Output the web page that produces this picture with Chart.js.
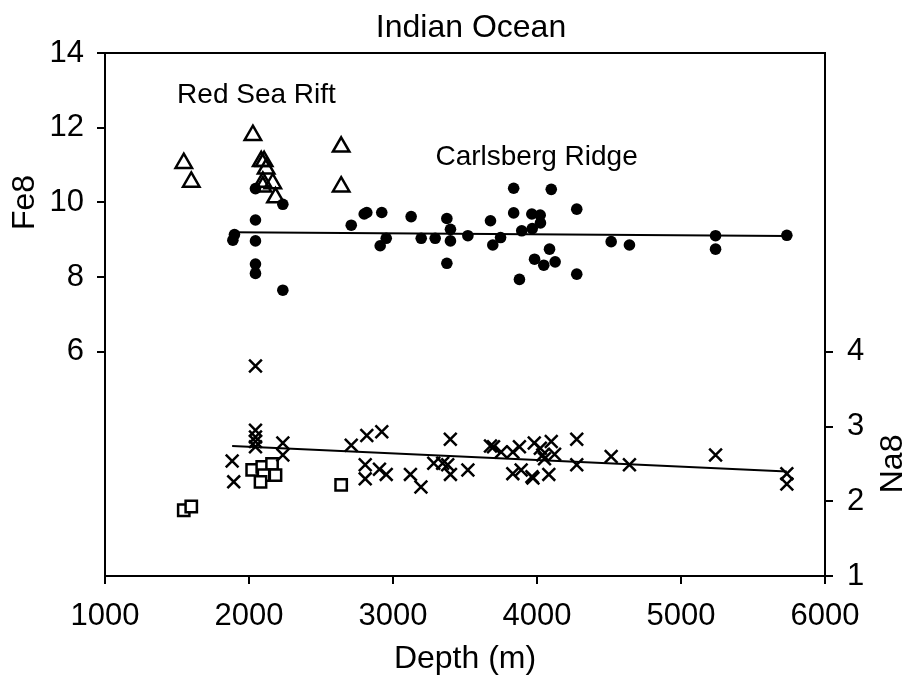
<!DOCTYPE html>
<html>
<head>
<meta charset="utf-8">
<script src="https://cdn.jsdelivr.net/npm/chart.js@4"></script>
<style>
  html, body { margin: 0; padding: 0; background: #fff; }
  canvas { display: block; }
</style>
</head>
<body>
<canvas id="chart" width="907" height="676"></canvas>
<script>
// Carlsberg Ridge, Fe8 (filled circles)
const cbDepthFe = [1899, 1888, 2045, 2045, 2045, 2045, 2045, 2235, 2235, 2710, 2800, 2818, 2922, 2953, 2911,
    3126, 3196, 3293, 3374, 3399, 3399, 3374, 3520, 3677, 3747, 3693, 3838, 3838, 3894, 3964, 4022, 4024,
    3967, 4099, 4087, 3983, 4047, 4126, 3878, 4276, 4276, 4515, 4642, 5240, 5240, 5735];
const cbFe8 = [9.14, 8.99, 10.37, 9.53, 8.97, 8.35, 8.10, 9.95, 7.65, 9.39, 9.69, 9.73, 9.73, 9.04, 8.84,
    9.62, 9.04, 9.04, 9.57, 9.28, 8.97, 8.37, 9.11, 9.51, 9.06, 8.86, 10.38, 9.72, 9.24, 9.69, 9.66, 9.45,
    9.30, 10.35, 8.75, 8.48, 8.32, 8.41, 7.94, 9.82, 8.08, 8.95, 8.86, 9.11, 8.75, 9.12];

// Carlsberg Ridge, Na8 (crosses)
const cbDepthNa = [2045, 2045, 2045, 2045, 2045, 2235, 2235, 1883, 1894, 2710, 2818, 2922, 2807, 2807, 2906,
    2953, 3121, 3194, 3283, 3345, 3398, 3380, 3399, 3520, 3677, 3698, 3751, 3832, 3878, 3832, 3890, 3965,
    3972, 3981, 4023, 4040, 4099, 4122, 4052, 4082, 4276, 4276, 4515, 4642, 5240, 5735, 5735];
const cbNa8 = [3.81, 2.95, 2.86, 2.80, 2.73, 2.78, 2.62, 2.54, 2.26, 2.75, 2.88, 2.93, 2.49, 2.30, 2.43,
    2.36, 2.36, 2.19, 2.51, 2.51, 2.83, 2.49, 2.36, 2.42, 2.74, 2.73, 2.66, 2.66, 2.73, 2.37, 2.42, 2.33,
    2.31, 2.78, 2.71, 2.62, 2.80, 2.63, 2.57, 2.36, 2.83, 2.49, 2.60, 2.49, 2.62, 2.37, 2.23];

// Red Sea Rift, Fe8 (open triangles)
const rsDepthFe = [1547, 1599, 2027, 2085, 2105, 2119, 2096, 2165, 2096, 2184, 2640, 2640];
const rsFe8 = [11.05, 10.55, 11.80, 11.10, 11.10, 10.90, 10.55, 10.51, 10.42, 10.13, 11.49, 10.42];

// Red Sea Rift, Na8 (open squares)
const rsDepthNa = [1547, 1599, 2022, 2092, 2160, 2101, 2184, 2080, 2640];
const rsNa8 = [1.88, 1.93, 2.42, 2.46, 2.50, 2.35, 2.35, 2.26, 2.22];

// trend lines through the Carlsberg data
const feTrendDepth = [1890, 5735];
const feTrend = [9.20, 9.10];
const naTrendDepth = [1883, 5735];
const naTrend = [2.74, 2.40];

const FONT = '"Liberation Sans", Arial, Helvetica, sans-serif';

function toPoints(xs, ys) {
    return xs.map((x, i) => ({ x: x, y: ys[i] }));
}

// titles and area labels
const textPlugin = {
    id: 'textPlugin',
    afterDraw(chart) {
        const { ctx, chartArea, scales } = chart;
        const cx = (chartArea.left + chartArea.right) / 2;
        ctx.save();

        // top edge of the frame
        ctx.strokeStyle = '#000';
        ctx.lineWidth = 2;
        ctx.beginPath();
        ctx.moveTo(chartArea.left, chartArea.top);
        ctx.lineTo(chartArea.right, chartArea.top);
        ctx.stroke();

        ctx.fillStyle = '#000';
        ctx.textAlign = 'center';
        ctx.textBaseline = 'middle';

        ctx.font = '32px ' + FONT;
        ctx.fillText('Indian Ocean', cx + 6, 28);
        ctx.fillText('Depth (m)', cx, 659);

        ctx.save();
        ctx.translate(25, scales.y.getPixelForValue(10));
        ctx.rotate(-Math.PI / 2);
        ctx.fillText('Fe8', 0, 0);
        ctx.restore();

        ctx.save();
        ctx.translate(893, scales.y2.getPixelForValue(2.5));
        ctx.rotate(-Math.PI / 2);
        ctx.fillText('Na8', 0, 0);
        ctx.restore();

        ctx.font = '28px ' + FONT;
        ctx.fillText('Red Sea Rift', scales.x.getPixelForValue(2052), scales.y.getPixelForValue(12.87));
        ctx.fillText('Carlsberg Ridge', scales.x.getPixelForValue(3997), scales.y.getPixelForValue(11.21));

        ctx.restore();
    }
};

const axisLook = {
    border: { display: true, color: '#000', width: 2 },
    grid: { drawOnChartArea: false, drawTicks: true, tickLength: 8, color: '#000', lineWidth: 2 }
};

const tickFont = { size: 31, family: FONT };

new Chart(document.getElementById('chart'), {
    type: 'scatter',
    data: {
        datasets: [
            {
                label: 'Fe8 trend',
                data: toPoints(feTrendDepth, feTrend),
                showLine: true,
                borderColor: '#000',
                borderWidth: 2,
                pointRadius: 0,
                yAxisID: 'y'
            },
            {
                label: 'Na8 trend',
                data: toPoints(naTrendDepth, naTrend),
                showLine: true,
                borderColor: '#000',
                borderWidth: 2,
                pointRadius: 0,
                yAxisID: 'y2'
            },
            {
                label: 'Carlsberg Ridge Fe8',
                data: toPoints(cbDepthFe, cbFe8),
                pointStyle: 'circle',
                pointRadius: 5.8,
                backgroundColor: '#000',
                borderColor: '#000',
                borderWidth: 0,
                yAxisID: 'y'
            },
            {
                label: 'Red Sea Rift Fe8',
                data: toPoints(rsDepthFe, rsFe8),
                pointStyle: 'triangle',
                pointRadius: 9.5,
                backgroundColor: 'rgba(255,255,255,0)',
                borderColor: '#000',
                borderWidth: 2.5,
                yAxisID: 'y'
            },
            {
                label: 'Carlsberg Ridge Na8',
                data: toPoints(cbDepthNa, cbNa8),
                pointStyle: 'crossRot',
                pointRadius: 9,
                borderColor: '#000',
                borderWidth: 2.5,
                yAxisID: 'y2'
            },
            {
                label: 'Red Sea Rift Na8',
                data: toPoints(rsDepthNa, rsNa8),
                pointStyle: 'rect',
                pointRadius: 8,
                backgroundColor: '#fff',
                borderColor: '#000',
                borderWidth: 2.5,
                yAxisID: 'y2'
            }
        ]
    },
    options: {
        responsive: false,
        animation: false,
        layout: { padding: { top: 53, left: 0, right: 0, bottom: 0 } },
        plugins: {
            legend: { display: false },
            tooltip: { enabled: false },
            title: { display: false }
        },
        scales: {
            x: {
                type: 'linear',
                position: 'bottom',
                min: 1000,
                max: 6000,
                ...axisLook,
                ticks: {
                    stepSize: 1000,
                    color: '#000',
                    padding: 14,
                    maxRotation: 0,
                    font: tickFont,
                    callback: v => String(v)
                },
                afterFit: s => { s.height = 100; }
            },
            y: {
                type: 'linear',
                position: 'left',
                min: 0,
                max: 14,
                ...axisLook,
                ticks: {
                    stepSize: 2,
                    color: '#000',
                    padding: 13,
                    font: tickFont
                },
                afterBuildTicks: axis => { axis.ticks = axis.ticks.filter(t => t.value >= 6); },
                afterFit: s => { s.width = 105; }
            },
            y2: {
                type: 'linear',
                position: 'right',
                min: 1,
                max: 8,
                ...axisLook,
                ticks: {
                    stepSize: 1,
                    color: '#000',
                    padding: 14,
                    font: tickFont
                },
                afterBuildTicks: axis => { axis.ticks = axis.ticks.filter(t => t.value <= 4); },
                afterFit: s => { s.width = 82; }
            }
        }
    },
    plugins: [textPlugin]
});
</script>
</body>
</html>
